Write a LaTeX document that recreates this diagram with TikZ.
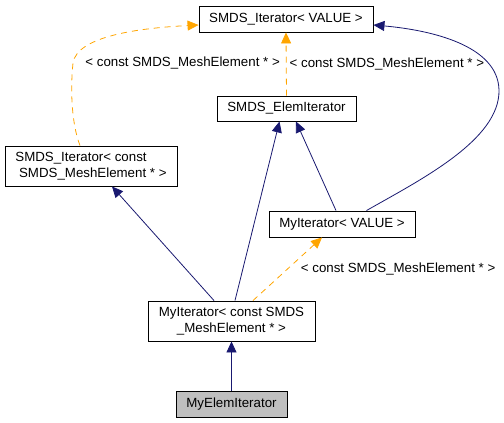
\documentclass[tikz,border=0pt]{standalone}
\usepackage{fontspec}
\setmainfont{Liberation Sans}
\usepackage{tikz}
\usetikzlibrary{arrows.meta}

\definecolor{navy}{RGB}{25,25,112}
\definecolor{tmpl}{RGB}{255,165,0}
\definecolor{cur}{RGB}{191,191,191}

\begin{document}
\begin{tikzpicture}[x=1pt,y=-1pt,font=\fontsize{13.3}{15.5}\selectfont,
    cls/.style={draw,line width=0.9pt,fill=white,inner sep=0pt,minimum height=26pt,align=center},
    inh/.style={draw=navy,line width=0.8pt,-{Triangle[length=11pt,width=10pt]}},
    tpl/.style={draw=tmpl,line width=0.8pt,dash pattern=on 6pt off 5pt,-{Triangle[length=11pt,width=10pt]}},
    lbl/.style={inner sep=1pt,text=black}]
      \useasboundingbox (0,0) rectangle (504,423);

      \node[cls,minimum width=174pt] (viter) at (286,19) {SMDS\_Iterator< VALUE >};
      \node[cls,minimum width=139pt,minimum height=25pt] (elemit) at (286.5,108.5) {SMDS\_ElemIterator};
      \node[cls,minimum width=172pt,minimum height=40pt,align=left] (itconst) at (91,166)
            {SMDS\_Iterator< const\\\ SMDS\_MeshElement * >};
      \node[cls,minimum width=146pt] (myvalue) at (342,224) {MyIterator< VALUE >};
      \node[cls,minimum width=167pt,minimum height=40pt] (myconst) at (231.5,321)
            {MyIterator< const SMDS\\\_MeshElement * >};
      \node[cls,minimum width=111pt,fill=cur] (myelem) at (231.5,404) {MyElemIterator};

      % template instances
      \path[tpl] ([xshift=-11pt]itconst.north) .. controls (72,125) and (70,92) .. (73,63)
            node[lbl,anchor=west,xshift=11pt] {< const SMDS\_MeshElement * >}
            .. controls (77,36) and (140,28) .. ([yshift=-6pt]viter.west);
      \path[tpl] (elemit.north) -- node[lbl,right=2pt] {< const SMDS\_MeshElement * >} (viter.south);
      \path[tpl] ([xshift=21.5pt]myconst.north) -- node[lbl,right=12pt] {< const SMDS\_MeshElement * >}
            ([xshift=-20pt]myvalue.south);

      % inheritance
      \path[inh] ([xshift=24.5pt]myvalue.north) .. controls (420,180) and (500,140) .. (499,90)
            .. controls (498,45) and (430,30) .. ([yshift=-6pt]viter.east);
      \path[inh] ([xshift=3.5pt]myconst.north) -- ([xshift=-7pt]elemit.south);
      \path[inh] ([xshift=-6pt]myvalue.north) -- ([xshift=9.5pt]elemit.south);
      \path[inh] ([xshift=-17.5pt]myconst.north) -- ([xshift=21pt]itconst.south);
      \path[inh] (myelem) -- (myconst);
\end{tikzpicture}
\end{document}
